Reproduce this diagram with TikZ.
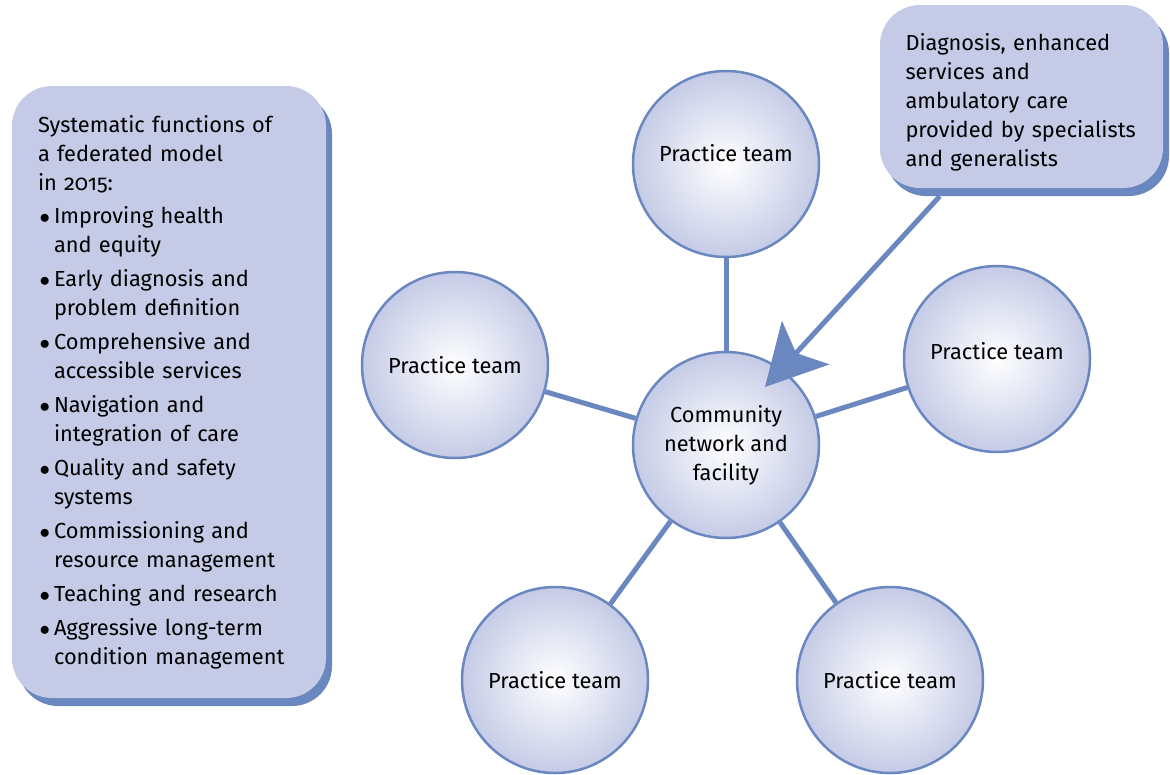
\documentclass[tikz,border=0pt]{standalone}
\usepackage{fontspec}
\setmainfont{Fira Sans}[Numbers=OldStyle]
\usepackage{enumitem}
\usetikzlibrary{arrows.meta,shadows,calc}
\definecolor{panelfill}{RGB}{197,203,230}
\definecolor{edgeblue}{RGB}{106,135,192}

\begin{document}
\begin{tikzpicture}[x=1pt,y=-1pt,
    every node/.style={font=\fontsize{21.8}{29}\selectfont, text=black},
    panel/.style={rectangle, rounded corners=40pt, fill=panelfill,
      drop shadow={shadow xshift=6pt, shadow yshift=-8pt, fill=edgeblue, opacity=1}},
    team/.style={circle, minimum size=186pt, draw=edgeblue, line width=2.5pt,
      inner color=white, outer color=panelfill, align=center},
    spoke/.style={edgeblue, line width=5pt}
  ]
  \useasboundingbox (0,0) rectangle (1170,774);

  \node[panel, minimum width=314pt, minimum height=612pt, text width=262pt,
        inner sep=0pt] (functions) at (169,392) {\raggedright
    Systematic functions of\\
    a federated model\\
    in 2015:
    \begin{itemize}[leftmargin=16pt, labelsep=4pt, itemsep=5pt, parsep=0pt,
                    topsep=4pt, partopsep=0pt, label=$\bullet$]
      \item Improving health\\ and equity
      \item Early diagnosis and\\ problem definition
      \item Comprehensive and\\ accessible services
      \item Navigation and\\ integration of care
      \item Quality and safety\\ systems
      \item Commissioning and\\ resource management
      \item Teaching and research
      \item Aggressive long-term\\ condition management
    \end{itemize}};

  \node[panel, minimum width=283pt, minimum height=183pt, text width=232pt,
        align=left] (diag) at (1021.5,96.5)
    {\rule{0pt}{29pt}Diagnosis, enhanced\\ services and\\ ambulatory care\\
     provided by specialists\\ and generalists};

  \node[team] (hub)      at (726,445) {Community\\ network and\\ facility};
  \node[team] (top)      at (726,164) {\raisebox{22pt}{Practice team}};
  \node[team] (left)     at (455,365) {Practice team};
  \node[team] (right)    at (997,359) {\raisebox{16pt}{Practice team}};
  \node[team] (lowleft)  at (555,680) {Practice team};
  \node[team] (lowright) at (890,680) {Practice team};

  \draw[spoke] (hub) -- (top);
  \draw[spoke] (hub) -- (left);
  \draw[spoke] (hub) -- (right);
  \draw[spoke] (hub) -- (lowleft);
  \draw[spoke] (hub) -- (lowright);

  \coordinate (aim) at ($(hub.center)+(39,-58)$);
  \draw[spoke, -{Stealth[length=60pt, width=64pt, inset=14pt]}]
    ($(diag.south west)+(60,8)$) -- (aim);
\end{tikzpicture}
\end{document}
